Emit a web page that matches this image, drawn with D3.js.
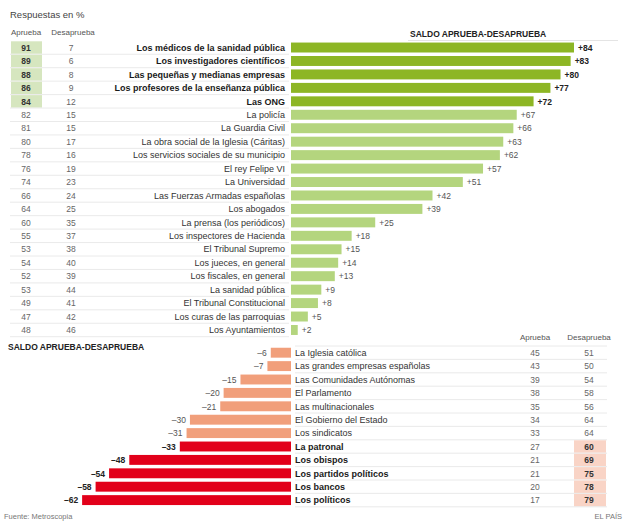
<!DOCTYPE html>
<html><head><meta charset="utf-8">
<script src="https://cdn.jsdelivr.net/npm/d3@7"></script>
<style>
body{margin:0;background:#fff;}
svg{display:block;font-family:"Liberation Sans",Arial,sans-serif;}
</style></head>
<body><svg id="c" width="626" height="521"></svg>
<script>
const topLabels = ["Los médicos de la sanidad pública","Los investigadores científicos","Las pequeñas y medianas empresas","Los profesores de la enseñanza pública","Las ONG","La policía","La Guardia Civil","La obra social de la Iglesia (Cáritas)","Los servicios sociales de su municipio","El rey Felipe VI","La Universidad","Las Fuerzas Armadas españolas","Los abogados","La prensa (los periódicos)","Los inspectores de Hacienda","El Tribunal Supremo","Los jueces, en general","Los fiscales, en general","La sanidad pública","El Tribunal Constitucional","Los curas de las parroquias","Los Ayuntamientos"];
const topAprueba = [91,89,88,86,84,82,81,80,78,76,74,66,64,60,55,53,54,52,53,49,47,48];
const topDesaprueba = [7,6,8,9,12,15,15,17,16,19,23,24,25,35,37,38,40,39,44,41,42,46];
const topSaldo = [84,83,80,77,72,67,66,63,62,57,51,42,39,25,18,15,14,13,9,8,5,2];

const bottomLabels = ["La Iglesia católica","Las grandes empresas españolas","Las Comunidades Autónomas","El Parlamento","Las multinacionales","El Gobierno del Estado","Los sindicatos","La patronal","Los obispos","Los partidos políticos","Los bancos","Los políticos"];
const bottomAprueba = [45,43,39,38,35,34,33,27,21,21,20,17];
const bottomDesaprueba = [51,50,54,58,56,64,64,60,69,75,78,79];
const bottomSaldo = [-6,-7,-15,-20,-21,-30,-31,-33,-48,-54,-58,-62];

const svg = d3.select("#c");
const fs = 9;
const x0 = 291;
const x = d3.scaleLinear().domain([0, 84]).range([0, 283]);

// top
const topHighlight = 5;
const yTop = d3.scaleBand().domain(d3.range(topLabels.length)).range([40.8, 40.8 + 13.45*topLabels.length]).paddingInner(0.26).paddingOuter(0.13);
const rowTop = i => 40.8 + 13.45*i;

svg.append("text").attr("x",10).attr("y",18).attr("font-size",9.5).attr("fill","#444").text("Respuestas en %");
svg.append("text").attr("x",26).attr("y",35).attr("text-anchor","middle").attr("font-size",8).attr("fill","#555").text("Aprueba");
svg.append("text").attr("x",73).attr("y",35).attr("text-anchor","middle").attr("font-size",8).attr("fill","#555").text("Desaprueba");
svg.append("text").attr("x",410).attr("y",36.5).attr("font-size",8.5).attr("font-weight","bold").attr("fill","#222").text("SALDO APRUEBA-DESAPRUEBA");
svg.append("line").attr("x1",408).attr("x2",618).attr("y1",40.5).attr("y2",40.5).attr("stroke","#ddd").attr("stroke-width",0.8);

const gT = svg.append("g");
topLabels.forEach((lab,i)=>{
  const r = rowTop(i);
  const bold = i < topHighlight;
  if (bold) gT.append("rect").attr("x",11).attr("y",r+0.5).attr("width",31).attr("height",12.5).attr("fill","#d6e6bf");
  gT.append("line").attr("x1",10).attr("x2",289).attr("y1",r+13.45).attr("y2",r+13.45).attr("stroke","#e4e4e4").attr("stroke-width",0.8);
  const cy = r + 6.7 + 3.2;
  gT.append("text").attr("x",26).attr("y",cy).attr("text-anchor","middle").attr("font-size",fs-0.5)
    .attr("font-weight",bold?"bold":"normal").attr("fill",bold?"#333":"#666").text(topAprueba[i]);
  gT.append("text").attr("x",71).attr("y",cy).attr("text-anchor","middle").attr("font-size",fs-0.5)
    .attr("fill","#666").text(topDesaprueba[i]);
  gT.append("text").attr("x",285).attr("y",cy).attr("text-anchor","end").attr("font-size",fs)
    .attr("font-weight",bold?"bold":"normal").attr("fill",bold?"#1a1a1a":"#333").text(lab);
  const w = x(topSaldo[i]);
  gT.append("rect").attr("x",x0).attr("y",yTop(i)).attr("width",w).attr("height",yTop.bandwidth())
    .attr("fill",bold?"#8db624":"#b4d57e");
  gT.append("text").attr("x",x0+w+4).attr("y",cy).attr("font-size",fs-0.5)
    .attr("font-weight",bold?"bold":"normal").attr("fill",bold?"#222":"#555").text("+"+topSaldo[i]);
});

// bottom
const rowBot = i => 346 + 13.4*i;
const yBot = d3.scaleBand().domain(d3.range(bottomLabels.length)).range([346, 346+13.4*bottomLabels.length]).paddingInner(0.26).paddingOuter(0.13);
const botHighlight = 7;
svg.append("text").attr("x",8).attr("y",350).attr("font-size",8.5).attr("font-weight","bold").attr("fill","#222").text("SALDO APRUEBA-DESAPRUEBA");
svg.append("text").attr("x",535).attr("y",340).attr("text-anchor","middle").attr("font-size",8).attr("fill","#555").text("Aprueba");
svg.append("text").attr("x",589).attr("y",340).attr("text-anchor","middle").attr("font-size",8).attr("fill","#555").text("Desaprueba");
const gB = svg.append("g");
gB.append("line").attr("x1",295).attr("x2",607).attr("y1",346).attr("y2",346).attr("stroke","#e4e4e4").attr("stroke-width",0.8);
bottomLabels.forEach((lab,i)=>{
  const r = rowBot(i);
  const bold = i >= botHighlight;
  if (bold) gB.append("rect").attr("x",574).attr("y",r+0.5).attr("width",32).attr("height",12.4).attr("fill","#f9d4c6");
  gB.append("line").attr("x1",295).attr("x2",607).attr("y1",r+13.4).attr("y2",r+13.4).attr("stroke","#e4e4e4").attr("stroke-width",0.8);
  const cy = r + 6.7 + 3.2;
  const w = x(-bottomSaldo[i]);
  gB.append("rect").attr("x",x0-w).attr("y",yBot(i)).attr("width",w).attr("height",yBot.bandwidth())
    .attr("fill",bold?"#e2001a":"#f19f7b");
  gB.append("text").attr("x",x0-w-4).attr("y",cy).attr("text-anchor","end").attr("font-size",fs-0.5)
    .attr("font-weight",bold?"bold":"normal").attr("fill",bold?"#222":"#555").text("\u2013"+(-bottomSaldo[i]));
  gB.append("text").attr("x",295).attr("y",cy).attr("font-size",fs)
    .attr("font-weight",bold?"bold":"normal").attr("fill",bold?"#1a1a1a":"#333").text(lab);
  gB.append("text").attr("x",535).attr("y",cy).attr("text-anchor","middle").attr("font-size",fs-0.5)
    .attr("fill","#666").text(bottomAprueba[i]);
  gB.append("text").attr("x",589).attr("y",cy).attr("text-anchor","middle").attr("font-size",fs-0.5)
    .attr("font-weight",bold?"bold":"normal").attr("fill",bold?"#333":"#666").text(bottomDesaprueba[i]);
});

svg.append("text").attr("x",4).attr("y",519).attr("font-size",7.5).attr("fill","#777").text("Fuente: Metroscopia");
svg.append("text").attr("x",622).attr("y",519).attr("text-anchor","end").attr("font-size",7.5).attr("fill","#777").text("EL PAÍS");
</script></body></html>
